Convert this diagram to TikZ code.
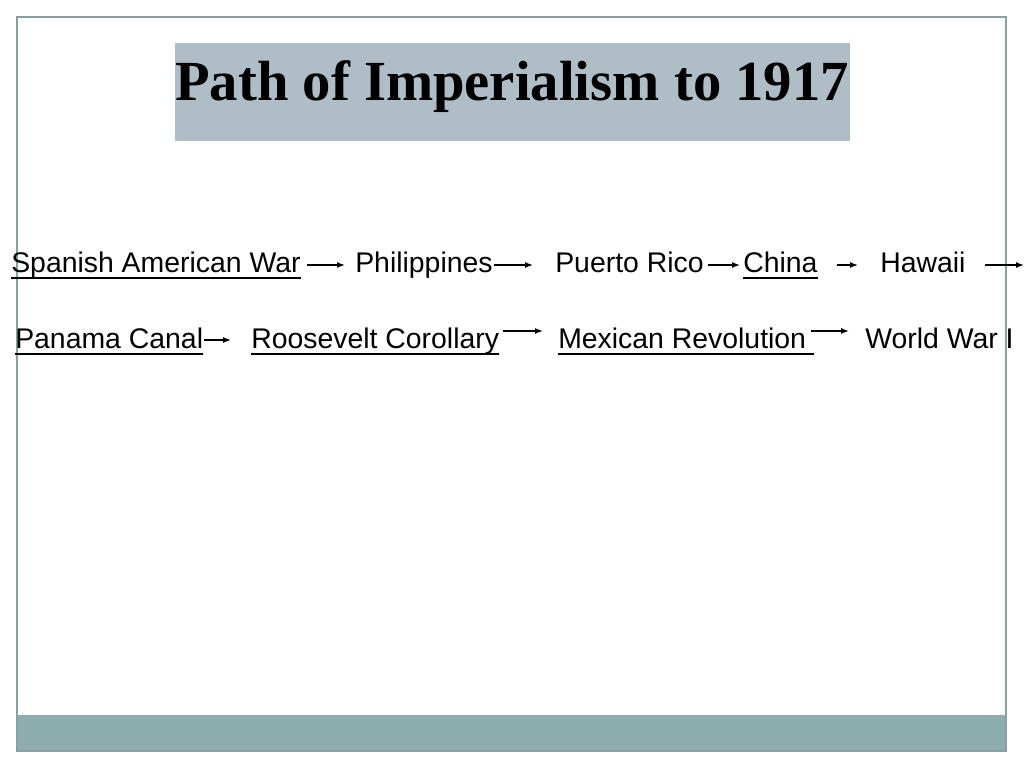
\documentclass[tikz,border=0pt]{standalone}
\usepackage{fontspec}
\setmainfont{Liberation Sans}
\newfontfamily\titlefont{Liberation Serif}
\usetikzlibrary{arrows.meta}
\definecolor{framegray}{HTML}{8AA0A0}
\definecolor{titlebg}{HTML}{AFBEC6}
\definecolor{footbg}{HTML}{8DACAC}
\tikzset{
  item/.style={anchor=base west, inner sep=0pt, font=\fontsize{21.3}{25}\selectfont},
  flow/.style={-{Latex[length=6pt,width=4.5pt]}, line width=1.05pt},
  uline/.style={line width=1.1pt}
}
\begin{document}
\begin{tikzpicture}[x=0.75pt,y=-0.75pt]
\useasboundingbox (0,0) rectangle (1024,768);
\fill[white] (0,0) rectangle (1024,768);
% footer band
\fill[footbg] (17,715) rectangle (1006,751);
% frame
\draw[framegray, line width=1.1pt] (17,17) rectangle (1006,751);
% title
\fill[titlebg] (175,43) rectangle (850,141);
\node[anchor=base, inner sep=0pt, font=\titlefont\bfseries\fontsize{42.5}{50}\selectfont] (title) at (512,100) {Path of Imperialism to 1917};
% row 1
\node[item] (saw) at (11,272) {Spanish American War};
\node[item] (phi) at (355,272) {Philippines};
\node[item] (pr) at (555,272) {Puerto Rico};
\node[item] (chi) at (743,272) {China};
\node[item] (haw) at (880,272) {Hawaii};
% row 2
\node[item] (pan) at (15,348) {Panama Canal};
\node[item] (roo) at (251,348) {Roosevelt Corollary};
\node[item] (mex) at (558,348) {Mexican Revolution};
\node[item] (ww) at (865,348) {World War I};
% underlines
\draw[uline] ([yshift=-4.5]saw.base west) -- ([yshift=-4.5]saw.base east);
\draw[uline] ([yshift=-4.5]chi.base west) -- ([yshift=-4.5]chi.base east);
\draw[uline] ([yshift=-4.5]pan.base west) -- ([yshift=-4.5]pan.base east);
\draw[uline] ([yshift=-4.5]roo.base west) -- ([yshift=-4.5]roo.base east);
\draw[uline] ([yshift=-4.5]mex.base west) -- ([yshift=-4.5,xshift=6]mex.base east);
% arrow end points
\coordinate (a1s) at (307,265); \coordinate (a1e) at (345,265);
\coordinate (a2s) at (494,265); \coordinate (a2e) at (533,265);
\coordinate (a3s) at (708,265); \coordinate (a3e) at (740,265);
\coordinate (a4s) at (837,265); \coordinate (a4e) at (858,265);
\coordinate (a5s) at (985,265); \coordinate (a5e) at (1024,265);
\coordinate (b1s) at (204,340); \coordinate (b1e) at (231,340);
\coordinate (b2s) at (503,331); \coordinate (b2e) at (543,331);
\coordinate (b3s) at (811,331); \coordinate (b3e) at (849,331);
\foreach \s/\e in {a1s/a1e,a2s/a2e,a3s/a3e,a4s/a4e,a5s/a5e,b1s/b1e,b2s/b2e,b3s/b3e}
  \draw[flow] (\s) -- (\e);
\end{tikzpicture}
\end{document}
